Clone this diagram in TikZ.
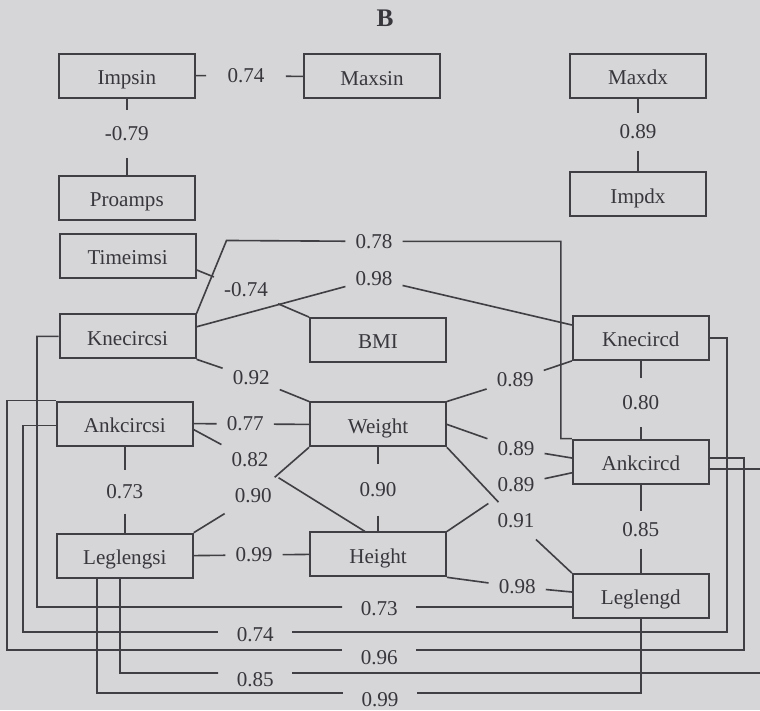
\documentclass[tikz,border=0pt]{standalone}
\usepackage{fontspec}
\setmainfont{Liberation Serif}
\usepackage{xcolor}
\usepackage{tikz}
\definecolor{scanpaper}{RGB}{214,214,217}
\definecolor{scanink}{RGB}{64,64,68}
\definecolor{scantext}{RGB}{55,55,60}

\begin{document}
\begin{tikzpicture}[
  every node/.style={font=\fontsize{15}{18}\selectfont},
  varbox/.style={draw=scanink, line width=1.3pt,
                 minimum width=3.4cm, minimum height=1.1cm,
                 text height=12.5pt, text depth=0pt,
                 inner sep=2pt, text=scantext},
  coef/.style={text=scantext, inner xsep=7pt, inner ysep=8pt},
  longcoef/.style={coef, inner xsep=13pt},
  link/.style={draw=scanink, line width=1.15pt}
]

%% Frame
\useasboundingbox (0,0) rectangle (19,17.75);
\clip (0,0) rectangle (19,17.75);
\fill[scanpaper] (0,0) rectangle (19,17.75);

%% Title
\node[font=\fontsize{18}{20}\selectfont\bfseries, text=scantext]
  (title) at (9.625,17.3) {B};

%% Left column
\node[varbox] (Impsin)    at (3.17,15.86) {Impsin};
\node[varbox] (Proamps)   at (3.17,12.81) {Proamps};
\node[varbox] (Timeimsi)  at (3.19,11.35) {Timeimsi};
\node[varbox] (Knecircsi) at (3.19,9.34)  {Knecircsi};
\node[varbox] (Ankcircsi) at (3.12,7.16)  {Ankcircsi};
\node[varbox] (Leglengsi) at (3.12,3.86)  {Leglengsi};

%% Middle column
\node[varbox] (Maxsin) at (9.30,15.84) {Maxsin};
\node[varbox] (BMI)    at (9.45,9.25)  {BMI};
\node[varbox] (Weight) at (9.45,7.14)  {Weight};
\node[varbox] (Height) at (9.45,3.89)  {Height};

%% Right column
\node[varbox] (Maxdx)    at (15.95,15.85) {Maxdx};
\node[varbox] (Impdx)    at (15.95,12.89) {Impdx};
\node[varbox] (Knecircd) at (16.02,9.30)  {Knecircd};
\node[varbox] (Ankcircd) at (16.02,6.21)  {Ankcircd};
\node[varbox] (Leglengd) at (16.02,2.85)  {Leglengd};

%% Coefficients
\node[coef, inner xsep=15pt] (c074a) at (6.15,15.85) {0.74};
\node[coef, inner ysep=12pt] (c079)  at (3.17,14.40) {-0.79};
\node[coef]                  (c089a) at (15.95,14.45) {0.89};
\node[coef]                  (c074b) at (6.15,10.50) {-0.74};
\node[coef]                  (c078)  at (9.35,11.715) {0.78};
\node[coef]                  (c098a) at (9.35,10.78) {0.98};
\node[coef]                  (c092)  at (6.28,8.30) {0.92};
\node[coef]                  (c077)  at (6.13,7.15) {0.77};
\node[coef]                  (c082)  at (6.25,6.25) {0.82};
\node[coef]                  (c090a) at (6.33,5.35) {0.90};
\node[coef]                  (c099a) at (6.35,3.875) {0.99};
\node[coef, inner ysep=10pt] (c073a) at (3.12,5.45) {0.73};
\node[coef, inner ysep=13pt] (c090b) at (9.45,5.50) {0.90};
\node[coef]                  (c089b) at (12.88,8.25) {0.89};
\node[coef]                  (c089c) at (12.90,6.53) {0.89};
\node[coef]                  (c089d) at (12.90,5.63) {0.89};
\node[coef]                  (c091)  at (12.90,4.73) {0.91};
\node[coef]                  (c098b) at (12.93,3.08) {0.98};
\node[coef, inner ysep=12pt] (c080)  at (16.02,7.68) {0.80};
\node[coef]                  (c085a) at (16.02,4.50) {0.85};

%% Coefficients on the margin routes
\node[longcoef] (c073b) at (9.48,2.525) {0.73};
\node[longcoef] (c074c) at (6.38,1.875) {0.74};
\node[longcoef] (c096)  at (9.48,1.30)  {0.96};
\node[longcoef] (c085b) at (6.38,0.75)  {0.85};
\node[longcoef] (c099b) at (9.50,0.25)  {0.99};

%% Top pairs
\draw[link] (Impsin.east) -- (c074a) -- (Maxsin.west);
\draw[link] (Impsin.south) -- (c079) -- (Proamps.north);
\draw[link] (Maxdx.south) -- (c089a) -- (Impdx.north);

%% Cross links
\draw[link] ([yshift=0.225cm]Timeimsi.south east) -- (c074b) -- (BMI.north west);
\draw[link] (Knecircsi.north east) -- ++(0.75,1.825) -- (c078)
  -| ([xshift=-0.275cm]Ankcircd.north west) -- (Ankcircd.north west);
\draw[link] ([yshift=0.24cm]Knecircsi.east) -- (c098a)
  -- ([yshift=0.325cm]Knecircd.west);
\draw[link] (Knecircsi.south east) -- (c092) -- (Weight.north west);
\draw[link] (Ankcircsi.east) -- (c077) -- (Weight.west);
\draw[link] ([yshift=-0.15cm]Ankcircsi.east) -- (c082)
  -- ([xshift=-0.325cm]Height.north);
\draw[link] (Weight.south west) -- (c090a) -- (Leglengsi.north east);
\draw[link] (Leglengsi.east) -- (c099a) -- (Height.west);
\draw[link] (Ankcircsi.south) -- (c073a) -- (Leglengsi.north);
\draw[link] (Weight.south) -- (c090b) -- (Height.north);
\draw[link] (Weight.north east) -- (c089b) -- (Knecircd.south west);
\draw[link] (Weight.east) -- (c089c) -- ([yshift=0.09cm]Ankcircd.west);
\draw[link] (Height.north east) -- (c089d) -- ([yshift=-0.28cm]Ankcircd.west);
\draw[link] (Weight.south east) -- (c091) -- (Leglengd.north west);
\draw[link] (Height.south east) -- (c098b) -- ([yshift=0.1cm]Leglengd.west);
\draw[link] (Knecircd.south) -- (c080) -- (Ankcircd.north);
\draw[link] (Ankcircd.south) -- (c085a) -- (Leglengd.north);

%% Margin routes
\draw[link] (Knecircsi.west) -| (0.925,2.575) -- ([yshift=0.05cm]c073b.west)
  ([yshift=0.05cm]c073b.east) -- ([yshift=-0.275cm]Leglengd.west);
\draw[link] ([yshift=-0.05cm]Ankcircsi.west) -| (0.575,1.95)
  -- ([yshift=0.075cm]c074c.west)
  ([yshift=0.075cm]c074c.east) -| (18.175,9.30) -- (Knecircd.east);
\draw[link] (Ankcircsi.north west) -| (0.175,1.5) -- ([yshift=0.2cm]c096.west)
  ([yshift=0.2cm]c096.east) -| (18.6,6.3) -- ([yshift=0.09cm]Ankcircd.east);
\draw[link] ([xshift=-0.12cm]Leglengsi.south) |- ([yshift=0.175cm]c085b.west)
  ([yshift=0.175cm]c085b.east) -| (19.4,6.025)
  -- ([yshift=-0.185cm]Ankcircd.east);
\draw[link] ([xshift=-0.695cm]Leglengsi.south) |- ([yshift=0.175cm]c099b.west)
  ([yshift=0.175cm]c099b.east) -| (Leglengd.south);

\end{tikzpicture}
\end{document}
